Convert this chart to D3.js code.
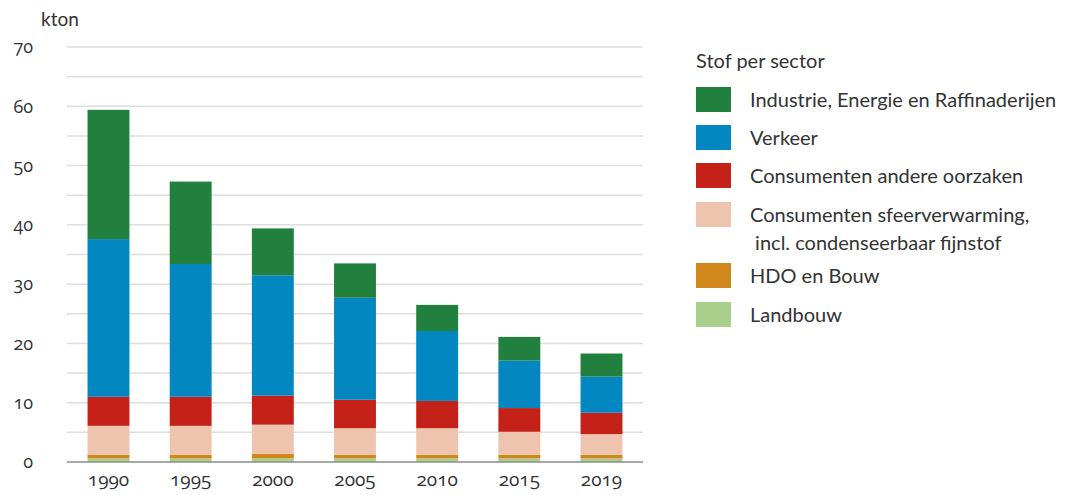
<!DOCTYPE html>
<html>
<head>
<meta charset="utf-8">
<script src="https://cdn.jsdelivr.net/npm/d3@7"></script>
<style>
  body { margin: 0; background: #fff; }
  svg text { font-family: Lato, "Open Sans", sans-serif; fill: #333; }
  .num { font-family: "Open Sans", Lato, sans-serif; font-variant-numeric: oldstyle-nums; font-feature-settings: "onum"; }
</style>
</head>
<body>
<div id="chart"></div>
<script>
'use strict';

// years on the x axis
const years = ['1990', '1995', '2000', '2005', '2010', '2015', '2019'];

// emissions per sector, kton (bottom to top of each stack)
const landbouw     = [0.6, 0.6, 0.6, 0.6, 0.6, 0.6, 0.6];
const hdoBouw      = [0.6, 0.6, 0.8, 0.6, 0.6, 0.6, 0.6];
const sfeer        = [4.9, 4.9, 4.9, 4.5, 4.5, 3.9, 3.5];
const consAnders   = [4.9, 4.9, 4.9, 4.8, 4.6, 4.0, 3.6];
const verkeer      = [26.6, 22.4, 20.3, 17.2, 11.8, 8.0, 6.1];
const industrie    = [21.8, 13.9, 7.9, 5.8, 4.4, 4.0, 3.9];

const yTicks = [0, 10, 20, 30, 40, 50, 60, 70];
const gridTicks = [5, 10, 15, 20, 25, 30, 35, 40, 45, 50, 55, 60, 65, 70];

const series = [
  {key: 'landbouw', label: ['Landbouw'], values: landbouw, color: '#a9d08a'},
  {key: 'hdo', label: ['HDO en Bouw'], values: hdoBouw, color: '#d0881c'},
  {key: 'sfeer', label: ['Consumenten sfeerverwarming,', ' incl. condenseerbaar fijnstof'], values: sfeer, color: '#efc4ae'},
  {key: 'anders', label: ['Consumenten andere oorzaken'], values: consAnders, color: '#c42119'},
  {key: 'verkeer', label: ['Verkeer'], values: verkeer, color: '#0387c1'},
  {key: 'industrie', label: ['Industrie, Energie en Raffinaderijen'], values: industrie, color: '#22803e'}
];

const width = 1066, height = 495;
const plot = {left: 67, right: 643, top: 47, bottom: 462};

// rows for d3.stack
const rows = years.map((y, i) => {
  const r = {year: y};
  series.forEach(s => { r[s.key] = s.values[i]; });
  return r;
});
const stacked = d3.stack().keys(series.map(s => s.key))(rows);

const svg = d3.select('#chart').append('svg')
  .attr('width', width)
  .attr('height', height);

const x_scale = d3.scaleBand()
  .domain(years)
  .range([plot.left, plot.right])
  .paddingInner(0.49)
  .paddingOuter(0.25);

const y_scale = d3.scaleLinear()
  .domain([0, 70])
  .range([plot.bottom, plot.top]);

// grid lines every 5
svg.append('g')
  .selectAll('line')
  .data(gridTicks)
  .join('line')
  .attr('x1', plot.left)
  .attr('x2', plot.right)
  .attr('y1', d => y_scale(d))
  .attr('y2', d => y_scale(d))
  .attr('stroke', '#dedede')
  .attr('stroke-width', 1.5);

// stacked bars
svg.append('g')
  .selectAll('g')
  .data(stacked)
  .join('g')
  .attr('fill', (d, i) => series[i].color)
  .selectAll('rect')
  .data(d => d)
  .join('rect')
  .attr('x', d => x_scale(d.data.year))
  .attr('width', x_scale.bandwidth())
  .attr('y', d => y_scale(d[1]))
  .attr('height', d => y_scale(d[0]) - y_scale(d[1]));

// base line
svg.append('line')
  .attr('x1', plot.left)
  .attr('x2', plot.right)
  .attr('y1', y_scale(0))
  .attr('y2', y_scale(0))
  .attr('stroke', '#8c8c8c')
  .attr('stroke-width', 1.5);

// y axis
const yAxis = d3.axisLeft(y_scale).tickValues(yTicks).tickSize(0).tickPadding(0);
const yAxisGroup = svg.append('g')
  .attr('transform', 'translate(33,0)')
  .call(yAxis);
yAxisGroup.select('.domain').remove();
yAxisGroup.selectAll('text')
  .attr('class', 'num')
  .attr('fill', '#333')
  .style('font-size', '18px');

svg.append('text')
  .attr('x', 41)
  .attr('y', 26)
  .style('font-size', '19px')
  .text('kton');

// x axis
const xAxis = d3.axisBottom(x_scale).tickSize(0).tickPadding(0);
const xAxisGroup = svg.append('g')
  .attr('transform', `translate(0,${plot.bottom + 10})`)
  .call(xAxis);
xAxisGroup.select('.domain').remove();
xAxisGroup.selectAll('text')
  .attr('class', 'num')
  .attr('fill', '#333')
  .style('font-size', '19px');

// legend
const legend = svg.append('g').attr('transform', 'translate(696,0)');
legend.append('text')
  .attr('x', 0)
  .attr('y', 68)
  .style('font-size', '20px')
  .text('Stof per sector');

const legendY = [87, 125, 163, 202, 263, 302];
const legendItems = legend.selectAll('g.item')
  .data(series.slice().reverse())
  .join('g')
  .attr('class', 'item')
  .attr('transform', (d, i) => `translate(0,${legendY[i]})`);

legendItems.append('rect')
  .attr('width', 35)
  .attr('height', 25)
  .attr('fill', d => d.color);

legendItems.append('text')
  .attr('x', 54)
  .attr('y', 20)
  .style('font-size', '20px')
  .style('white-space', 'pre')
  .selectAll('tspan')
  .data(d => d.label)
  .join('tspan')
  .attr('x', 54)
  .attr('dy', (d, i) => i === 0 ? 0 : 28)
  .text(d => d);
</script>
</body>
</html>
